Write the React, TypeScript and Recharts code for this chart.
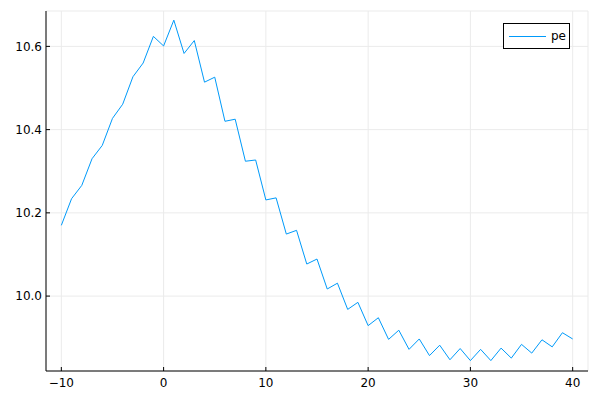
import React from "react";
import {
  LineChart,
  Line,
  XAxis,
  YAxis,
  CartesianGrid,
  Legend,
} from "recharts";

// x positions (lag) and the "pe" series
const lags = [
  -10, -9, -8, -7, -6, -5, -4, -3, -2, -1, 0, 1, 2, 3, 4, 5, 6, 7, 8, 9, 10,
  11, 12, 13, 14, 15, 16, 17, 18, 19, 20, 21, 22, 23, 24, 25, 26, 27, 28, 29,
  30, 31, 32, 33, 34, 35, 36, 37, 38, 39, 40,
];
const peValues = [
  10.17, 10.234, 10.266, 10.33, 10.362, 10.427, 10.461, 10.527, 10.56, 10.624,
  10.601, 10.663, 10.583, 10.614, 10.514, 10.526, 10.42, 10.425, 10.324, 10.327,
  10.231, 10.236, 10.149, 10.158, 10.077, 10.089, 10.017, 10.031, 9.968, 9.985,
  9.929, 9.948, 9.896, 9.918, 9.872, 9.897, 9.857, 9.882, 9.847, 9.874, 9.845,
  9.872, 9.845, 9.875, 9.851, 9.884, 9.863, 9.895, 9.878, 9.912, 9.897,
];
const xTicks = [-10, 0, 10, 20, 30, 40];
const yTicks = [10.0, 10.2, 10.4, 10.6];

const chartData = lags.map((lag, i) => ({ lag, pe: peValues[i] }));

const FONT = "'DejaVu Sans', sans-serif";
const LINE_COLOR = "#009AFA";

function PlotsLegend() {
  return (
    <div
      style={{
        boxSizing: "border-box",
        width: 67,
        height: 26,
        border: "1px solid #000",
        background: "#fff",
        display: "flex",
        alignItems: "center",
        fontFamily: FONT,
        fontSize: 12,
        color: "#000",
      }}
    >
      <div
        style={{
          marginLeft: 5,
          width: 37,
          borderTop: `1px solid ${LINE_COLOR}`,
        }}
      />
      <span style={{ marginLeft: 5 }}>pe</span>
    </div>
  );
}

export default function App() {
  return (
    <div
      style={{
        position: "absolute",
        left: 0,
        top: 0,
        width: 600,
        height: 400,
        background: "#fff",
      }}
    >
      <LineChart
        width={600}
        height={400}
        data={chartData}
        margin={{ top: 11, right: 12, left: 0, bottom: 0 }}
      >
        <CartesianGrid stroke="#ebebeb" />
        <XAxis
          dataKey="lag"
          type="number"
          domain={[-11.5, 41.5]}
          ticks={xTicks}
          allowDataOverflow
          height={29}
          stroke="#000"
          tickSize={-4}
          tickMargin={11}
          tick={{ fill: "#000", fontSize: 12, fontFamily: FONT }}
          tickFormatter={(v: number) => (v < 0 ? `\u2212${-v}` : `${v}`)}
        />
        <YAxis
          type="number"
          domain={[9.82, 10.685]}
          ticks={yTicks}
          allowDataOverflow
          width={46}
          stroke="#000"
          tickSize={-4}
          tickMargin={8}
          tick={{ fill: "#000", fontSize: 12, fontFamily: FONT }}
          tickFormatter={(v: number) => v.toFixed(1)}
        />
        {/* centre/middle keeps the legend from shrinking the plot area */}
        <Legend
          layout="horizontal"
          verticalAlign="middle"
          align="center"
          content={<PlotsLegend />}
          wrapperStyle={{ top: 23, left: 503, right: "auto", width: 67, height: 26 }}
        />
        <Line
          type="linear"
          dataKey="pe"
          name="pe"
          stroke={LINE_COLOR}
          strokeWidth={1}
          dot={false}
          isAnimationActive={false}
        />
      </LineChart>
    </div>
  );
}
